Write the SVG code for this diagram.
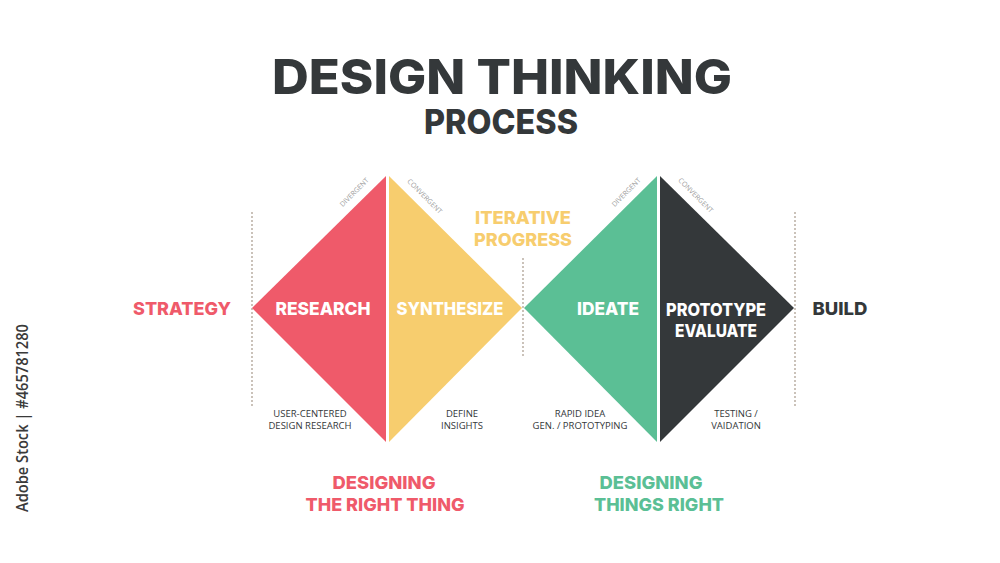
<svg xmlns="http://www.w3.org/2000/svg" width="1000" height="563" viewBox="0 0 1000 563">
<style>
.h{font-family:Inter,"Liberation Sans",sans-serif;font-weight:800;text-anchor:middle}
.w{fill:#ffffff}
.d{fill:#34383a}
.r{fill:#ef5a6a}
.y{fill:#f7cd6e}
.g{fill:#5bbf95}
.s{font-family:"Open Sans","Liberation Sans",sans-serif;font-size:9.5px;fill:#34383a;text-anchor:middle}
.t{font-family:"Open Sans","Liberation Sans",sans-serif;font-size:7px;fill:#a0a0a0;text-anchor:middle}
.dot{stroke:#a89a8c;stroke-width:1.2;stroke-dasharray:2 2;fill:none}
</style>
<rect width="1000" height="563" fill="#ffffff"/>
<g id="title">
<text class="h d" x="502" y="94" font-size="48" textLength="460" lengthAdjust="spacingAndGlyphs">DESIGN THINKING</text>
<text class="h d" x="501" y="134" font-size="34" textLength="154" lengthAdjust="spacingAndGlyphs">PROCESS</text>
</g>
<g id="connectors">
<line class="dot" x1="252" y1="212" x2="252" y2="406"/>
<line class="dot" x1="523" y1="258" x2="523" y2="358"/>
<line class="dot" x1="795" y1="212" x2="795" y2="406"/>
</g>
<g id="research">
<polygon class="r" points="252,308 386,176 386,442"/>
<text class="h w" x="323" y="315" font-size="18" textLength="95" lengthAdjust="spacingAndGlyphs">RESEARCH</text>
<text class="t" transform="translate(356,194) rotate(-45)">DIVERGENT</text>
<text class="s" x="310" y="417">USER-CENTERED</text>
<text class="s" x="310" y="429">DESIGN RESEARCH</text>
</g>
<g id="synthesize">
<polygon class="y" points="389,176 522,308 389,442"/>
<text class="h w" x="450" y="315" font-size="18" textLength="107" lengthAdjust="spacingAndGlyphs">SYNTHESIZE</text>
<text class="t" transform="translate(423,198) rotate(45)">CONVERGENT</text>
<text class="s" x="462" y="417">DEFINE</text>
<text class="s" x="462" y="429">INSIGHTS</text>
</g>
<g id="ideate">
<polygon class="g" points="524,308 657,176 657,442"/>
<text class="h w" x="608" y="315" font-size="18" textLength="62" lengthAdjust="spacingAndGlyphs">IDEATE</text>
<text class="t" transform="translate(628,194) rotate(-45)">DIVERGENT</text>
<text class="s" x="580" y="417">RAPID IDEA</text>
<text class="s" x="580" y="429">GEN. / PROTOTYPING</text>
</g>
<g id="prototype">
<polygon class="d" points="660,176 794,308 660,442"/>
<text class="h w" x="716" y="316" font-size="18" textLength="100" lengthAdjust="spacingAndGlyphs">PROTOTYPE</text>
<text class="h w" x="716" y="337" font-size="18" textLength="82" lengthAdjust="spacingAndGlyphs">EVALUATE</text>
<text class="t" transform="translate(694,197) rotate(45)">CONVERGENT</text>
<text class="s" x="736" y="417">TESTING /</text>
<text class="s" x="736" y="429">VAIDATION</text>
</g>
<g id="strategy">
<text class="h r" x="182" y="315" font-size="18" textLength="98" lengthAdjust="spacingAndGlyphs">STRATEGY</text>
</g>
<g id="build">
<text class="h d" x="840" y="315" font-size="18" textLength="55" lengthAdjust="spacingAndGlyphs">BUILD</text>
</g>
<g id="iterative">
<text class="h y" x="523" y="224" font-size="18" textLength="96" lengthAdjust="spacingAndGlyphs">ITERATIVE</text>
<text class="h y" x="523" y="246" font-size="18" textLength="98" lengthAdjust="spacingAndGlyphs">PROGRESS</text>
</g>
<g id="right-thing">
<text class="h r" x="384" y="489" font-size="18" textLength="103" lengthAdjust="spacingAndGlyphs">DESIGNING</text>
<text class="h r" x="385" y="511" font-size="18" textLength="159" lengthAdjust="spacingAndGlyphs">THE RIGHT THING</text>
</g>
<g id="things-right">
<text class="h g" x="651" y="489" font-size="18" textLength="103" lengthAdjust="spacingAndGlyphs">DESIGNING</text>
<text class="h g" x="659" y="511" font-size="18" textLength="130" lengthAdjust="spacingAndGlyphs">THINGS RIGHT</text>
</g>
<text transform="translate(28,512) rotate(-90)" font-family="'Open Sans','Liberation Sans',sans-serif" font-size="17" font-weight="600" fill="#3a3a3a" textLength="188" lengthAdjust="spacingAndGlyphs">Adobe Stock | #465781280</text>
</svg>
